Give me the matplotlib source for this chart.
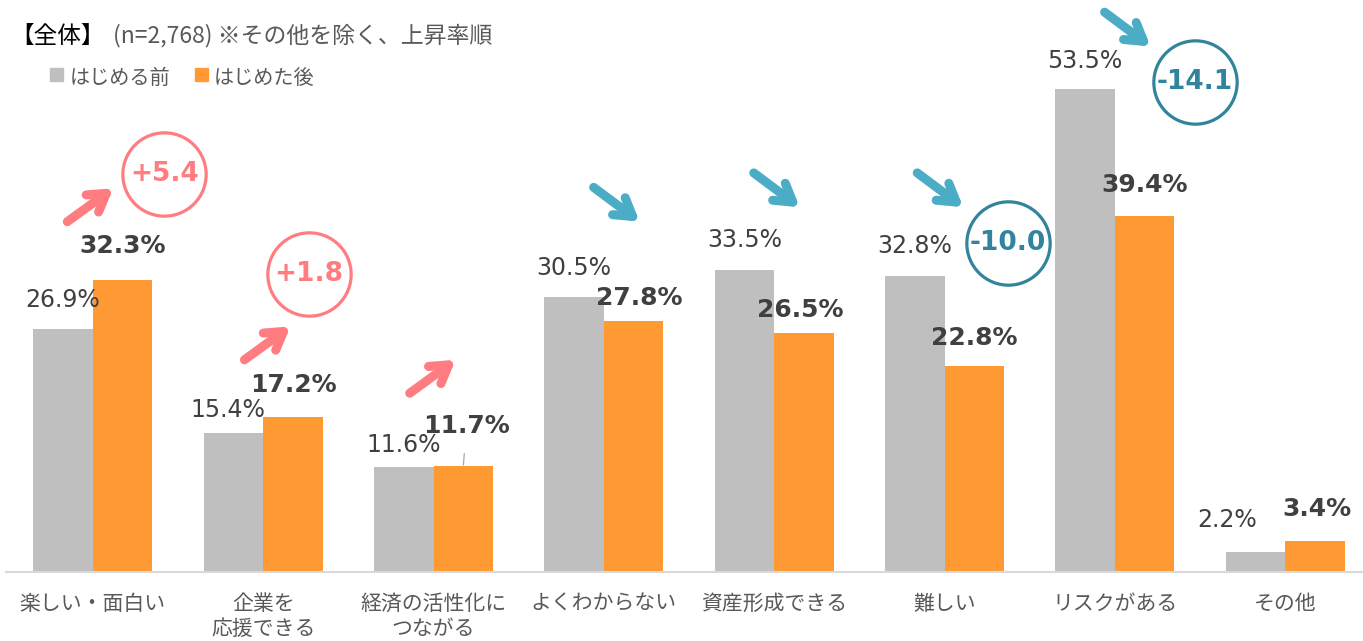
import matplotlib.pyplot as plt
import numpy as np

plt.rcParams['font.family'] = ['Noto Sans CJK JP', 'DejaVu Sans']

# data
categories = ['楽しい・面白い', '企業を\n応援できる', '経済の活性化に\nつながる', 'よくわからない',
              '資産形成できる', '難しい', 'リスクがある', 'その他']
before = [26.9, 15.4, 11.6, 30.5, 33.5, 32.8, 53.5, 2.2]
after = [32.3, 17.2, 11.7, 27.8, 26.5, 22.8, 39.4, 3.4]
series_names = ['はじめる前', 'はじめた後']
circled = [0, 1, 5, 6]          # categories with a circled difference
up_arrows = [0, 1, 2]
down_arrows = [3, 4, 5, 6]

GRAY = '#BFBFBF'
ORANGE = '#FF9933'
PINK = '#FF7C80'
SKY = '#4BACC6'
TEAL = '#31849B'
TXT = '#404040'

# layout tweaks (pixel offsets of labels: dx, dy to text centre)
before_off = [(0, 29), (-6, 23), (0, 22), (0, 29), (0, 30), (0, 30), (0, 28), (-28, 32)]
after_off = [(0, 34), (0, 32), (3, 40), (6, 23), (-4, 23), (0, 28), (0, 31), (2, 32)]
arrow_tail = {0: (-0.15, 38.8), 1: (-0.11, 23.5), 2: (-0.14, 19.8),
              3: (-0.06, 42.6), 4: (-0.12, 44.2), 5: (-0.16, 44.2), 6: (-0.06, 62.0)}
circle_pos = {0: (0.42, 44.1), 1: (0.27, 33.0), 5: (0.37, 36.4), 6: (0.47, 54.3)}

W, H = 1363, 641
fig = plt.figure(figsize=(W / 100, H / 100), dpi=100)
ax = fig.add_axes([6 / W, 1 - 572 / H, 1 - 6 / W, 572 / H])

x = np.arange(len(categories))
bw = 0.35
ax.bar(x - bw / 2, before, bw, color=GRAY, zorder=2)
ax.bar(x + bw / 2, after, bw, color=ORANGE, zorder=2)

ax.set_xlim(-0.51, 7.457)
ax.set_ylim(0, 63.35)
for s in ['top', 'right', 'left']:
    ax.spines[s].set_visible(False)
ax.spines['bottom'].set_color('#D9D9D9')
ax.spines['bottom'].set_linewidth(1.5)
ax.set_yticks([])
ax.set_xticks(x)
ax.set_xticklabels(categories, fontsize=15, color='#595959', linespacing=1.2)
ax.tick_params(axis='x', length=0, pad=15)

# value labels
for i in range(len(categories)):
    dx, dy = before_off[i]
    ax.annotate(f'{before[i]:.1f}%', (x[i] - bw / 2, before[i]), xytext=(dx, dy),
                textcoords='offset pixels', ha='center', va='center',
                fontsize=17, color=TXT, family='DejaVu Sans', zorder=4)
    dx, dy = after_off[i]
    props = None
    if i == 2:
        props = dict(arrowstyle='-', color='#A6A6A6', lw=0.9, shrinkA=9, shrinkB=1)
    ax.annotate(f'{after[i]:.1f}%', (x[i] + bw / 2, after[i]), xytext=(dx, dy),
                textcoords='offset pixels', ha='center', va='center',
                fontsize=18, fontweight='bold', color=TXT, family='DejaVu Sans',
                arrowprops=props, zorder=4)

# arrows
for i, (tdx, ty) in arrow_tail.items():
    up = i in up_arrows
    tail = (x[i] + tdx, ty)
    head = (x[i] + tdx + 0.27, ty + (3.7 if up else -3.8))
    ax.annotate('', xy=head, xytext=tail,
                arrowprops=dict(arrowstyle='->,head_length=0.62,head_width=0.38',
                                mutation_scale=20, lw=6.5,
                                color=PINK if up else SKY,
                                capstyle='round', joinstyle='round',
                                shrinkA=0, shrinkB=0),
                annotation_clip=False, zorder=5)

# circled differences
for i in circled:
    cdx, cy = circle_pos[i]
    diff = after[i] - before[i]
    col = PINK if diff > 0 else TEAL
    ax.plot(x[i] + cdx, cy, 'o', ms=60, mfc='white', mec=col, mew=2.3,
            clip_on=False, zorder=5)
    ax.text(x[i] + cdx, cy, f'{diff:+.1f}', ha='center', va='center',
            fontsize=19, fontweight='bold', color=col, family='DejaVu Sans', zorder=6)

# header
fig.text(10 / W, 1 - 36 / H, '【全体】', fontsize=17, color='#000000', va='center')
fig.text(113 / W, 1 - 36 / H, '(n=2,768) ※その他を除く、上昇率順', fontsize=16.5,
         color='#595959', va='center')
fig.text(1225 / W, 1 + 3 / H, '(ポイント)', fontsize=18, fontweight='bold',
         color=TXT, ha='center', va='baseline', family=['DejaVu Sans', 'Noto Sans CJK JP'])

# legend
for (lx, tx), name, col in zip([(50, 70), (195, 214)], series_names, [GRAY, ORANGE]):
    fig.patches.append(plt.Rectangle((lx / W, 1 - 81 / H), 13 / W, 13 / H,
                                     transform=fig.transFigure, color=col))
    fig.text(tx / W, 1 - 78 / H, name, fontsize=14.5, color='#595959', va='center')

fig.savefig('out.png', dpi=100)
